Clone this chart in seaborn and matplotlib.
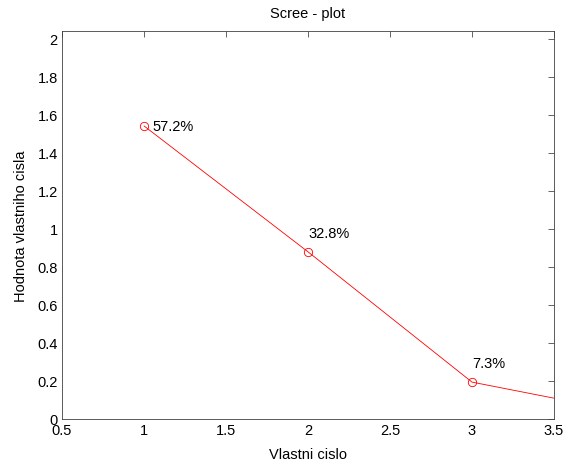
import matplotlib
matplotlib.use("Agg")
import matplotlib.pyplot as plt
import seaborn as sns
import pandas as pd

# Eigenvalues of the correlation matrix and explained-variance shares
components = [1, 2, 3, 4]
eigenvalues = [1.541, 0.879, 0.194, 0.025]
share_labels = ["57.2%", "32.8%", "7.3%"]

sns.set_style("white")
plt.rcParams["font.family"] = ["Liberation Sans", "DejaVu Sans"]
fs = 10.5
plt.rcParams["font.size"] = fs

df = pd.DataFrame({"komponenta": components, "vlastni_cislo": eigenvalues})

fig = plt.figure(figsize=(5.65, 4.64), dpi=100)
ax = fig.add_axes([62 / 565, 1 - 420 / 464, (554 - 62) / 565, (420 - 32) / 464])

sns.lineplot(data=df, x="komponenta", y="vlastni_cislo", ax=ax,
             color="red", linewidth=0.6, marker="o", markersize=6,
             markerfacecolor="none", markeredgecolor="red", markeredgewidth=0.6)

# percentage annotations next to the eigenvalues
ax.text(components[0] + 0.05, eigenvalues[0], share_labels[0],
        ha="left", va="center", fontsize=fs, color="black")
for i in (1, 2):
    ax.text(components[i], eigenvalues[i] + 0.1, share_labels[i],
            ha="left", va="center", fontsize=fs, color="black")

ax.set_xlim(0.5, 3.5)
ax.set_ylim(0, 2.04)
ax.set_xticks([0.5, 1, 1.5, 2, 2.5, 3, 3.5])
ax.set_xticklabels(["0.5", "1", "1.5", "2", "2.5", "3", "3.5"])
ax.set_yticks([0, 0.2, 0.4, 0.6, 0.8, 1, 1.2, 1.4, 1.6, 1.8, 2])
ax.set_yticklabels(["0", "0.2", "0.4", "0.6", "0.8", "1", "1.2", "1.4", "1.6", "1.8", "2"])
ax.tick_params(direction="in", length=4, width=0.5, top=True, right=True,
               labelsize=fs, colors="#262626", labelcolor="black", pad=3)
for s in ax.spines.values():
    s.set_visible(True)
    s.set_linewidth(0.6)
    s.set_color("#404040")

ax.set_xlabel("Vlastni cislo", fontsize=fs, labelpad=7, color="black")
ax.set_ylabel("Hodnota vlastniho cisla", fontsize=fs, labelpad=6.5, color="black")
ax.set_title("Scree - plot", fontsize=fs, pad=10, color="black")

fig.savefig("out.png", dpi=100)
